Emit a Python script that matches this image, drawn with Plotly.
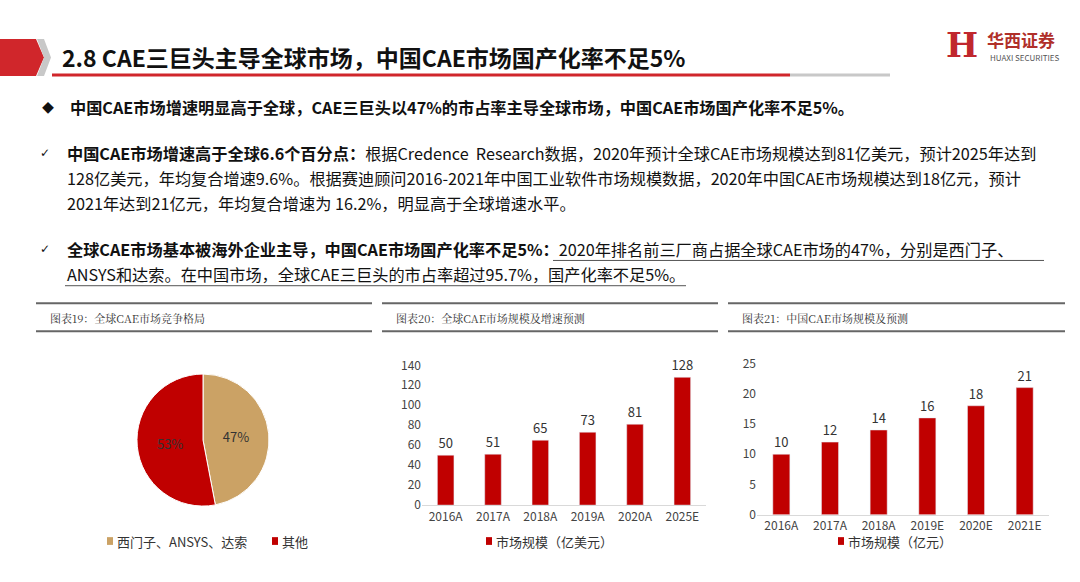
import plotly.graph_objects as go

W, H = 1080, 582
FONT = "Noto Sans CJK SC"

pie_labels = ["西门子、ANSYS、达索", "其他"]
pie_values = [47, 53]
pie_colors = ["#CBA265", "#C00000"]

g_years = ["2016A", "2017A", "2018A", "2019A", "2020A", "2025E"]
g_values = [50, 51, 65, 73, 81, 128]
g_name = "市场规模（亿美元）"

c_years = ["2016A", "2017A", "2018A", "2019E", "2020E", "2021E"]
c_values = [10, 12, 14, 16, 18, 21]
c_name = "市场规模（亿元）"

def px(x): return x / W
def py(y): return 1 - y / H

fig = go.Figure()
fig.add_trace(go.Pie(labels=pie_labels, values=pie_values, sort=False, direction="clockwise",
                     rotation=0, marker=dict(colors=pie_colors, line=dict(color="white", width=1)),
                     texttemplate="%{percent:.0%}", textposition="inside",
                     textfont=dict(color="#333", size=11, family=FONT),
                     domain=dict(x=[px(135), px(271)], y=[py(511), py(375)]),
                     showlegend=False))
fig.add_trace(go.Bar(x=g_years, y=g_values, text=g_values, textposition="outside",
                     marker_color="#C00000", width=0.35, xaxis="x", yaxis="y",
                     textfont=dict(size=13, color="#333"), cliponaxis=False, showlegend=False))
fig.add_trace(go.Bar(x=c_years, y=c_values, text=c_values, textposition="outside",
                     marker_color="#C00000", width=0.35, xaxis="x2", yaxis="y2",
                     textfont=dict(size=13, color="#333"), cliponaxis=False, showlegend=False))

ax = dict(showgrid=False, showline=True, linecolor="#D9D9D9", linewidth=1, ticks="",
          tickfont=dict(size=12, color="#444"), fixedrange=True)
ay = dict(showgrid=False, showline=False, zeroline=False, tickfont=dict(size=12, color="#444"))
fig.update_layout(
    width=W, height=H, margin=dict(l=0, r=0, t=0, b=0),
    paper_bgcolor="white", plot_bgcolor="white",
    font=dict(family=FONT, color="#333"),
    uniformtext=dict(minsize=13, mode="show"),
    xaxis=dict(ax, domain=[px(422), px(706)], anchor="y"),
    yaxis=dict(ay, domain=[py(510), py(366)], range=[0, 140], dtick=20, anchor="x"),
    xaxis2=dict(ax, domain=[px(757), px(1049)], anchor="y2"),
    yaxis2=dict(ay, domain=[py(520), py(364)], range=[0, 25], dtick=5, anchor="x2"),
)

shapes = []
ann = []

def text(t, x, y, size, color="#111", anchor="left", family=None):
    f = dict(size=size, color=color)
    if family:
        f["family"] = family
    ann.append(dict(text=t, x=px(x), y=py(y), xref="paper", yref="paper", xanchor=anchor,
                    yanchor="middle", showarrow=False, font=f))

def line(x0, x1, y, color, width):
    shapes.append(dict(type="line", x0=px(x0), x1=px(x1), y0=py(y), y1=py(y), xref="paper", yref="paper",
                       line=dict(color=color, width=width)))

# title banner
shapes.append(dict(type="path", path=f"M 0 {py(30)} L {px(36)} {py(30)} L {px(44)} {py(49)} L {px(36)} {py(68)} L 0 {py(68)} Z",
                   xref="paper", yref="paper", fillcolor="#D0262B", line_width=0))
shapes.append(dict(type="path", path=f"M {px(37)} {py(30)} L {px(44)} {py(30)} L {px(51)} {py(49)} L {px(44)} {py(68)} L {px(37)} {py(68)} L {px(44)} {py(49)} Z",
                   xref="paper", yref="paper", fillcolor="#C8C8C8", line_width=0))
line(52, 790, 67, "#D0262B", 3)
line(790, 890, 67, "#C8C8C8", 3)
text("<b>2.8 CAE三巨头主导全球市场，中国CAE市场国产化率不足5%</b>", 60, 48, 23)
# logo
text("<b>H</b>", 962, 36, 34, "#C0272D", "center", "DejaVu Serif")
text("<b>华西证券</b>", 985, 30, 17, "#B0302A")
text("HUAXI SECURITIES", 988, 49, 8, "#555")

# body text
text("◆", 40, 100, 12)
text("<b>中国CAE市场增速明显高于全球，CAE三巨头以47%的市占率主导全球市场，中国CAE市场国产化率不足5%。</b>", 68, 100, 16.2)
lines = [
    (147, "<b>中国CAE市场增速高于全球6.6个百分点：</b>根据Credence  Research数据，2020年预计全球CAE市场规模达到81亿美元，预计2025年达到"),
    (173, "128亿美元，年均复合增速9.6%。根据赛迪顾问2016-2021年中国工业软件市场规模数据，2020年中国CAE市场规模达到18亿元，预计"),
    (199, "2021年达到21亿元，年均复合增速为 16.2%，明显高于全球增速水平。"),
    (246, "<b>全球CAE市场基本被海外企业主导，中国CAE市场国产化率不足5%：</b>2020年排名前三厂商占据全球CAE市场的47%，分别是西门子、"),
    (272, "ANSYS和达索。在中国市场，全球CAE三巨头的市占率超过95.7%，国产化率不足5%。"),
]
for y, t in lines:
    text(t, 65, y, 16.2)
for y in (147, 246):
    text("✓", 38, y, 12, family="DejaVu Sans")
line(553, 1044, 258, "#555", 1)
line(65, 686, 284, "#555", 1)

# section frames
titles = ["图表19：全球CAE市场竞争格局", "图表20：全球CAE市场规模及增速预测", "图表21：中国CAE市场规模及预测"]
for (x0, x1), t in zip([(36, 372), (382, 718), (728, 1065)], titles):
    line(x0, x1, 302, "#666", 2)
    line(x0, x1, 331, "#666", 2)
    text(t, x0 + 12, 317, 11, "#333", family="Noto Serif CJK SC, Noto Sans CJK SC")

# legends
def legend(x, y, color, label):
    shapes.append(dict(type="rect", x0=px(x), x1=px(x + 6), y0=py(y + 4), y1=py(y - 4), xref="paper", yref="paper",
                       fillcolor=color, line_width=0))
    text(label, x + 8, y, 13, "#333")
legend(107, 547, pie_colors[0], pie_labels[0])
legend(272, 547, pie_colors[1], pie_labels[1])
legend(486, 547, "#C00000", g_name)
legend(838, 547, "#C00000", c_name)

fig.update_layout(shapes=shapes, annotations=ann)
fig.write_html("out.html", config=dict(displayModeBar=False),
               post_script="document.body.style.margin='0';document.body.style.overflow='hidden';")
